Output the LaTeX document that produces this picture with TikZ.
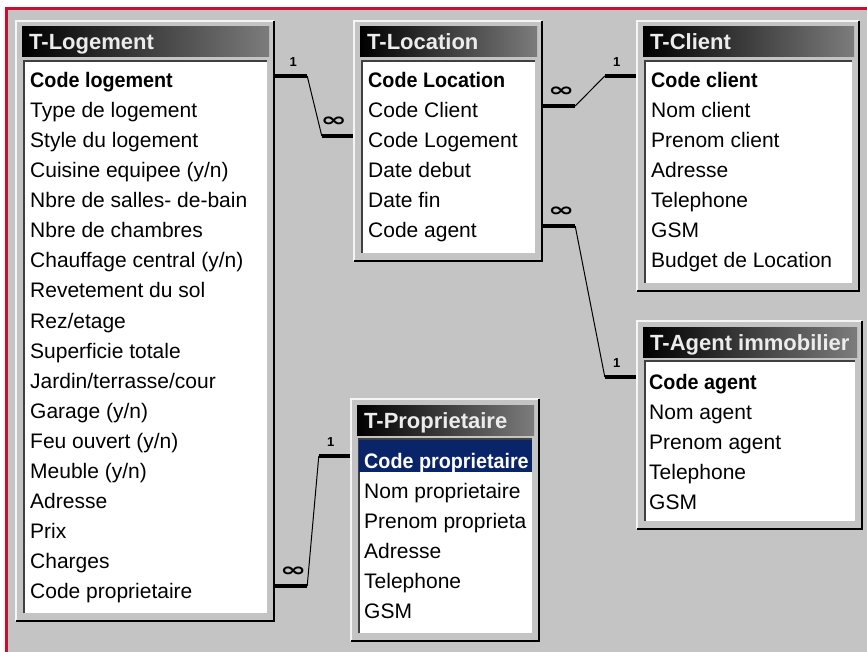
\documentclass[tikz,border=0pt]{standalone}
\usepackage{fontspec}
\setmainfont{Liberation Sans}
\newfontfamily\keyfont{Liberation Sans}[FakeStretch=0.94]
\newfontfamily\symfont{DejaVu Sans}
\usetikzlibrary{fit}

\definecolor{bg}{HTML}{C4C4C4}
\definecolor{redline}{HTML}{C8102E}
\definecolor{titleend}{HTML}{7C7C7C}
\definecolor{navy}{HTML}{0A246A}

\tikzset{
  rowtext/.style={anchor=base west, inner sep=0pt, font=\fontsize{21}{21}\selectfont},
  keytext/.style={anchor=base west, inner sep=0pt, font=\keyfont\bfseries\fontsize{21}{21}\selectfont},
  titletext/.style={anchor=base west, inner sep=0pt, text=gray!15, font=\bfseries\fontsize{22}{22}\selectfont},
  stub/.style={line width=4pt},
  link/.style={line width=1pt},
  lbl/.style={inner sep=0pt},
}

\newcommand\relone{\bfseries\fontsize{13}{13}\selectfont 1}
\newcommand\relmany{\scalebox{1.75}[1.05]{\symfont\bfseries\fontsize{18}{18}\selectfont ∞}}

% #1 name, #2 x1, #3 y1, #4 x2, #5 y2, #6 title
\newcommand\dbtable[6]{%
  \fill[bg] (#2,#3) rectangle (#4,#5);
  \draw[gray!8, line width=2pt] (#2+1,#5-1) -- (#2+1,#3+1) -- (#4-1,#3+1);
  \draw[black, line width=2pt] (#2+1,#5-1) -- (#4-1,#5-1) -- (#4-1,#3+1);
  \shade[left color=black, right color=titleend] (#2+7,#3+7) rectangle (#4-6,#3+37);
  \begin{scope}
    \clip (#2+7,#3+7) rectangle (#4-6,#3+37);
    \node[titletext] at (#2+14,#3+30) {#6};
  \end{scope}
  \fill[white] (#2+8,#3+40) rectangle (#4-8,#5-9);
  \draw[black!75, line width=2pt] (#2+9,#5-9) -- (#2+9,#3+41) -- (#4-8,#3+41);
  \node[fit={(#2,#3) (#4,#5)}, inner sep=0pt] (#1) {};
}

% #1 left row, #2 left table, #3 right row, #4 right table, #5 left label, #6 right label
\newcommand\rel[6]{%
  \path ([yshift=12pt]#1.base) coordinate (tmpl) ([yshift=12pt]#3.base) coordinate (tmpr);
  \draw[stub] (tmpl -| #2.east) coordinate (la) -- ++(32,0) coordinate (lb);
  \draw[stub] (tmpr -| #4.west) coordinate (rb) -- ++(-31,0) coordinate (ra);
  \draw[link] (lb) -- (ra);
  \node[lbl] at ([shift={(18,-14)}]la) {#5};
  \node[lbl] at ([shift={(-19,-14)}]rb) {#6};
}

\begin{document}
\begin{tikzpicture}[x=1pt, y={(0pt,-1pt)}]
\useasboundingbox (0,0) rectangle (867,652);
\fill[white] (0,0) rectangle (867,652);
\fill[bg] (5,7) rectangle (867,652);
\fill[redline] (5,7) rectangle (867,10);
\fill[redline] (5,7) rectangle (8,652);

% T-Logement
\dbtable{logement}{15}{20}{275}{622}{T-Logement}
\begin{scope}
  \clip (23,60) rectangle (267,613);
  \node[keytext] (lg1) at (30,88) {Code logement};
  \foreach \t [count=\i from 2] in {Type de logement, Style du logement, Cuisine equipee (y/n),
     Nbre de salles- de-bain, Nbre de chambres, Chauffage central (y/n), Revetement du sol,
     Rez/etage, Superficie totale, Jardin/terrasse/cour, Garage (y/n), Feu ouvert (y/n),
     Meuble (y/n), Adresse, Prix, Charges, Code proprietaire}
    \node[rowtext] (lg\i) at (30,{88+30*(\i-1)}) {\t};
\end{scope}

% T-Location
\dbtable{location}{353}{20}{543}{262}{T-Location}
\begin{scope}
  \clip (361,60) rectangle (535,253);
  \node[keytext] (lo1) at (368,88) {Code Location};
  \foreach \t [count=\i from 2] in {Code Client, Code Logement, Date debut, Date fin, Code agent}
    \node[rowtext] (lo\i) at (368,{88+30*(\i-1)}) {\t};
\end{scope}

% T-Client
\dbtable{client}{636}{20}{860}{292}{T-Client}
\begin{scope}
  \clip (644,60) rectangle (852,283);
  \node[keytext] (cl1) at (651,88) {Code client};
  \foreach \t [count=\i from 2] in {Nom client, Prenom client, Adresse, Telephone, GSM, Budget de Location}
    \node[rowtext] (cl\i) at (651,{88+30*(\i-1)}) {\t};
\end{scope}

% T-Agent immobilier
\dbtable{agent}{636}{320}{863}{530}{T-Agent immobilier}
\begin{scope}
  \clip (644,360) rectangle (855,521);
  \node[keytext] (ag1) at (649,389) {Code agent};
  \foreach \t [count=\i from 2] in {Nom agent, Prenom agent, Telephone, GSM}
    \node[rowtext] (ag\i) at (649,{389+30*(\i-1)}) {\t};
\end{scope}

% T-Proprietaire
\dbtable{proprio}{350}{398}{540}{642}{T-Proprietaire}
\begin{scope}
  \clip (358,438) rectangle (532,633);
  \fill[navy] (359,440) rectangle (532,472);
  \node[keytext, text=white] (pr1) at (364,468) {Code proprietaire};
  \foreach \t [count=\i from 2] in {Nom proprietaire, Prenom proprieta, Adresse, Telephone, GSM}
    \node[rowtext] (pr\i) at (364,{468+30*(\i-1)}) {\t};
\end{scope}

% relationships
\rel{lg1}{logement}{lo3}{location}{\relone}{\relmany}
\rel{lo2}{location}{cl1}{client}{\relmany}{\relone}
\rel{lo6}{location}{ag1}{agent}{\relmany}{\relone}
\rel{lg18}{logement}{pr1}{proprio}{\relmany}{\relone}
\end{tikzpicture}
\end{document}
